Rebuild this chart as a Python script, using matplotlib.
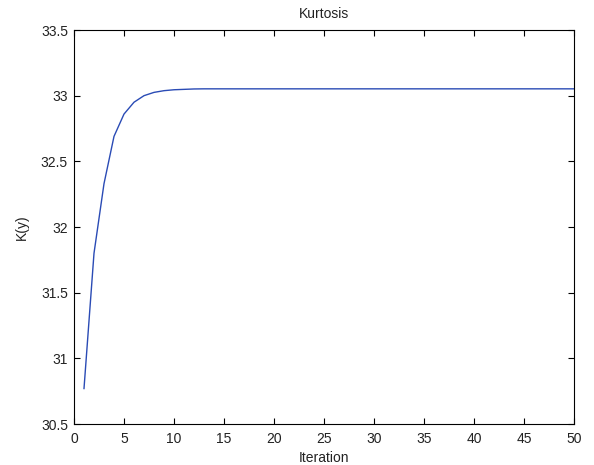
import matplotlib
matplotlib.use("Agg")
import matplotlib.pyplot as plt

iterations = list(range(1, 51))
kurtosis_head = [30.77, 31.80, 32.33, 32.69, 32.86, 32.95, 33.00, 33.025, 33.038, 33.045, 33.048, 33.051]
kurtosis = kurtosis_head + [33.052] * (50 - len(kurtosis_head))
x_ticks = [0, 5, 10, 15, 20, 25, 30, 35, 40, 45, 50]
y_ticks = [30.5, 31, 31.5, 32, 32.5, 33, 33.5]
y_ticklabels = ["30.5", "31", "31.5", "32", "32.5", "33", "33.5"]

plt.rcParams['font.family'] = ['Liberation Sans', 'DejaVu Sans']
fig = plt.figure(figsize=(5.94, 4.65), dpi=100)
ax = fig.add_axes([74/594, 1 - 424/465, 500/594, 394/465])
ax.plot(iterations, kurtosis, color='#2a4bb5', linewidth=1.0)
ax.set_xlim(0, 50)
ax.set_ylim(30.5, 33.5)
ax.set_xticks(x_ticks)
ax.set_xticklabels([str(t) for t in x_ticks])
ax.set_yticks(y_ticks)
ax.set_yticklabels(y_ticklabels)
ax.tick_params(direction='in', top=True, right=True, length=4, width=0.8,
               labelsize=10, labelcolor='#222222')
ax.tick_params(axis='x', pad=5.5)
ax.tick_params(axis='y', pad=4.3)
for s in ax.spines.values():
    s.set_linewidth(0.8)
ax.set_title("Kurtosis", fontsize=10, pad=8.5, color='#222222')
ax.set_xlabel("Iteration", fontsize=10, labelpad=3.5, color='#222222')
ax.set_ylabel("K(y)", fontsize=10, labelpad=9, color='#222222')
fig.savefig("out.png", dpi=100)
